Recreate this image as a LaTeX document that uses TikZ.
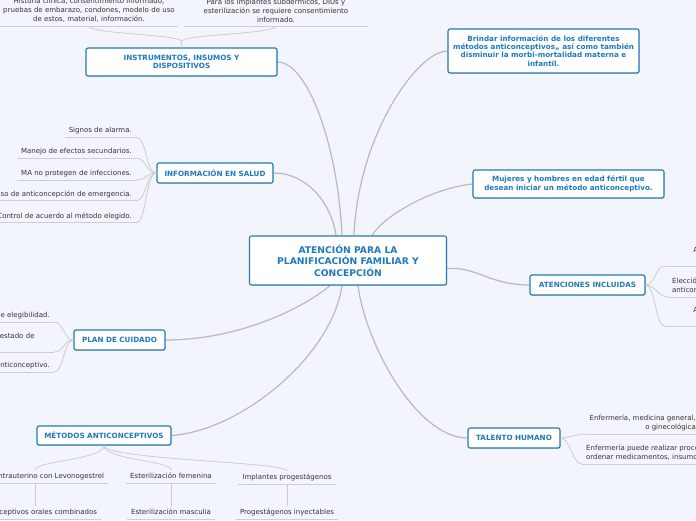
\documentclass[tikz,border=0pt]{standalone}
\usepackage{fontspec}
\setmainfont{DejaVu Sans}
\usetikzlibrary{shadows}
\definecolor{paper}{HTML}{F3F5FC}
\definecolor{boxblue}{HTML}{2278B8}
\definecolor{txtblue}{HTML}{1F79BD}
\definecolor{linegray}{HTML}{B9B9BF}
\definecolor{subgray}{HTML}{CDCDD2}
\definecolor{txtdark}{HTML}{333333}
\pgfdeclarelayer{bg}
\pgfdeclarelayer{edges}
\pgfsetlayers{bg,edges,main}
\tikzset{
  topic/.style={draw=boxblue, fill=white, line width=1.1pt, rounded corners=2pt,
    text=txtblue, align=center, inner sep=2pt,
    font=\fontsize{7.2}{8.3}\selectfont\bfseries,
    drop shadow={shadow xshift=0.6pt, shadow yshift=-0.8pt, opacity=0.25}},
  leaf/.style={text=txtdark, font=\fontsize{7}{9}\selectfont,
    inner xsep=4pt, inner ysep=3pt, text height=5.2pt, text depth=1.5pt,
    append after command={(\tikzlastnode.south west) edge[twig] (\tikzlastnode.south east)}},
  multi/.style={leaf, text height={}, text depth={}},
  branch/.style={draw=linegray, line width=1.2pt},
  twig/.style={draw=subgray, line width=0.8pt},
}
\begin{document}
\begin{tikzpicture}[x=1pt, y=-1pt]
  \useasboundingbox (0,0) rectangle (696,520);
  \begin{pgfonlayer}{bg}
    \fill[paper] (0,0) rectangle (696,520);
  \end{pgfonlayer}
  % Central topic
  \node[topic, font=\fontsize{9.2}{11.4}\selectfont\bfseries, minimum width=197pt, minimum height=49pt]
    (atencion) at (348,260.5) {ATENCIÓN PARA LA\\PLANIFICACIÓN FAMILIAR Y\\CONCEPCIÓN};
  % Main topics
  \node[topic, minimum width=191pt, minimum height=28pt] (ins) at (181.5,62) {INSTRUMENTOS, INSUMOS Y\\DISPOSITIVOS};
  \node[topic, minimum width=116pt, minimum height=20pt] (info) at (215,173) {INFORMACIÓN EN SALUD};
  \node[topic, minimum width=91pt, minimum height=20pt] (cuidado) at (119.5,340) {PLAN DE CUIDADO};
  \node[topic, minimum width=134pt, minimum height=19pt] (metodos) at (104,435.5) {MÉTODOS ANTICONCEPTIVOS};
  \node[topic, minimum width=191pt, minimum height=44pt] (brindar) at (543.5,51)
    {Brindar información de los diferentes\\métodos anticonceptivos,, así como también\\disminuir la morbi-mortalidad materna e\\infantil.};
  \node[topic, minimum width=191pt, minimum height=28pt] (mujeres) at (568.5,184)
    {Mujeres y hombres en edad fértil que\\desean iniciar un método anticonceptivo.};
  \node[topic, minimum width=115pt, minimum height=20pt] (incluidas) at (587.5,285) {ATENCIONES INCLUIDAS};
  \node[topic, minimum width=92pt, minimum height=20pt] (talento) at (514,438) {TALENTO HUMANO};

  % Instrumentos
  \node[multi, inner xsep=0pt, text width=178pt, align=center, anchor=south] (hist) at (89,26)
    {Historia clínica, consentimiento informado,\\pruebas de embarazo, condones, modelo de uso\\de estos, material, información.};
  \node[multi, inner xsep=0pt, text width=184pt, align=center, anchor=south] (consent) at (276,26)
    {Para los implantes subdérmicos, DIUs y\\esterilización se requiere consentimiento\\informado.};
  \draw[twig] (ins.north) -- +(0,-6) .. controls +(0,-7) and +(0,8) .. (hist.south);
  \draw[twig] (ins.north) -- +(0,-6) .. controls +(0,-7) and +(0,8) .. (consent.south);

  % Informacion en salud
  \node[leaf, anchor=south east] (signos) at (136,137) {Signos de alarma.};
  \node[leaf, anchor=south east] (efectos) at (136,158.3) {Manejo de efectos secundarios.};
  \node[leaf, anchor=south east] (infec) at (136,180) {MA no protegen de infecciones.};
  \node[leaf, anchor=south east] (emerg) at (136,200.7) {Uso de anticoncepción de emergencia.};
  \node[leaf, anchor=south east] (control) at (136,222.7) {Control de acuerdo al método elegido.};
  \draw[twig] (info.west) .. controls +(-11,0) and +(11,0) .. (signos.south east);
  \draw[twig] (info.west) .. controls +(-11,0) and +(11,0) .. (efectos.south east);
  \draw[twig] (info.west) .. controls +(-11,0) and +(11,0) .. (infec.south east);
  \draw[twig] (info.west) .. controls +(-11,0) and +(11,0) .. (emerg.south east);
  \draw[twig] (info.west) .. controls +(-11,0) and +(11,0) .. (control.south east);

  % Plan de cuidado
  \node[leaf, anchor=south east] (eleg) at (54,322) {de elegibilidad.};
  \node[leaf, anchor=south east, text width=50pt, align=left, text depth=10.5pt] (estado) at (54,352) {estado de};
  \node[leaf, anchor=south east] (metodo) at (54,372) {anticonceptivo.};
  \draw[twig] (cuidado.west) .. controls +(-10,0) and +(10,0) .. (eleg.south east);
  \draw[twig] (cuidado.west) .. controls +(-10,0) and +(10,0) .. (estado.south east);
  \draw[twig] (cuidado.west) .. controls +(-10,0) and +(10,0) .. (metodo.south east);

  % Metodos anticonceptivos
  \node[leaf, anchor=south] (siu) at (35,483) {Sistema intrauterino con Levonogestrel};
  \node[leaf, anchor=south] (femenina) at (171,483) {Esterilización femenina};
  \node[leaf, anchor=south] (implantes) at (287,484) {Implantes progestágenos};
  \node[leaf, anchor=south] (orales) at (35,519.5) {Anticonceptivos orales combinados};
  \node[leaf, anchor=south] (masculina) at (171,519.5) {Esterilización masculia};
  \node[leaf, anchor=south] (inyect) at (287,519.5) {Progestágenos inyectables};
  \draw[twig] (metodos.south) .. controls +(0,14) and +(0,-9) .. (siu.north);
  \draw[twig] (metodos.south) .. controls +(0,14) and +(0,-9) .. (femenina.north);
  \draw[twig] (metodos.south) .. controls +(0,14) and +(0,-9) .. (implantes.north);
  \draw[twig] (siu.south) -- (orales.north);
  \draw[twig] (femenina.south) -- (masculina.north);
  \draw[twig] (implantes.south) -- (inyect.north);

  % Atenciones incluidas
  \node[leaf, anchor=south west, text width=29pt, align=right, text depth=10.5pt] (incl1) at (665,266) {A};
  \node[multi, anchor=south west, align=left] (incl2) at (668,297) {Elección\\anticonceptivo};
  \node[leaf, anchor=south west, text width=29pt, align=right, text depth=10.5pt] (incl3) at (665,326) {A};
  \draw[twig] (incluidas.east) .. controls +(10,0) and +(-10,0) .. (incl1.south west);
  \draw[twig] (incluidas.east) .. controls +(10,0) and +(-10,0) .. (incl2.south west);
  \draw[twig] (incluidas.east) .. controls +(10,0) and +(-10,0) .. (incl3.south west);

  % Talento humano
  \node[multi, anchor=south east, align=right] (perfil) at (700,434) {Enfermería, medicina general,\\o ginecológica};
  \node[multi, anchor=south west, align=left] (proced) at (582,464) {Enfermería puede realizar procedimientos\\ordenar medicamentos, insumos};
  \draw[twig] (talento.east) .. controls +(10,0) and +(-10,0) .. (perfil.south west);
  \draw[twig] (talento.east) .. controls +(10,0) and +(-10,0) .. (proced.south west);

  % Branches to the central topic
  \begin{pgfonlayer}{edges}
    \draw[branch] (ins.east) .. controls +(30,0) and +(-4,-90) .. ([xshift=-6pt]atencion.north);
    \draw[branch] (info.east) .. controls +(35,0) and +(-4,-30) .. ([xshift=-12pt]atencion.north);
    \draw[branch] (brindar.west) .. controls +(-30,0) and +(4,-100) .. ([xshift=6pt]atencion.north);
    \draw[branch] (mujeres.west) .. controls +(-40,4) and +(12,-20) .. ([xshift=24pt]atencion.north);
    \draw[branch] (incluidas.west) .. controls +(-40,0) and +(30,-2) .. ([yshift=-8pt]atencion.east);
    \draw[branch] (talento.west) .. controls +(-50,0) and +(8,60) .. ([xshift=10pt]atencion.south);
    \draw[branch] (cuidado.east) .. controls +(70,0) and +(-30,25) .. ([xshift=-18pt]atencion.south);
    \draw[branch] (metodos.east) .. controls +(70,-5) and +(-10,70) .. ([xshift=-6pt]atencion.south);
  \end{pgfonlayer}
\end{tikzpicture}
\end{document}
